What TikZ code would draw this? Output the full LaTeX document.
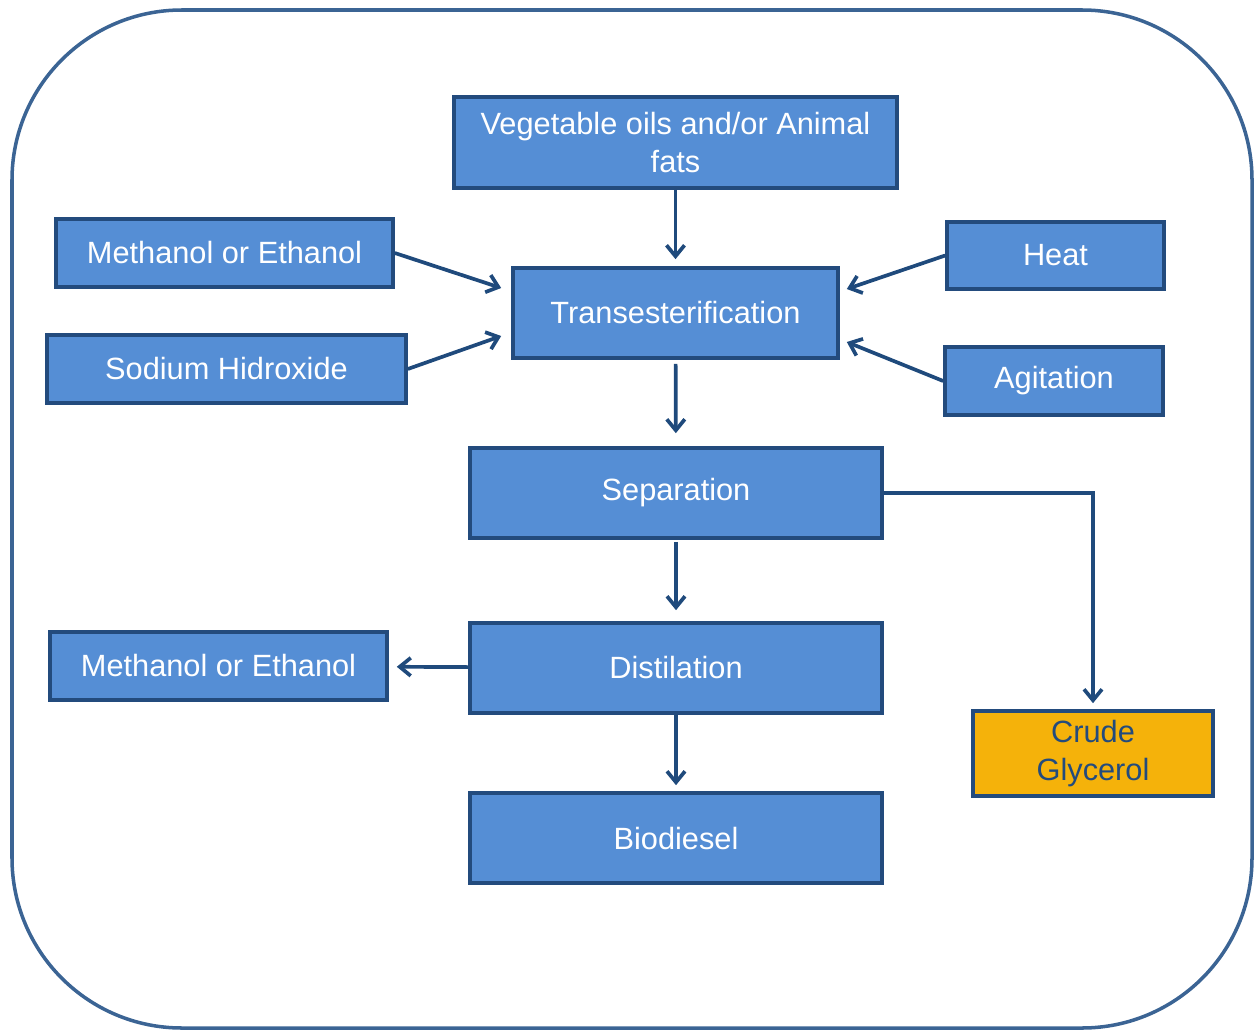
\documentclass[tikz,border=0pt]{standalone}
\usepackage{fontspec}
\setmainfont{Liberation Sans}
\usepackage{xcolor}
\usepackage{tikz}
\usetikzlibrary{arrows.meta}
\usetikzlibrary{calc}

\definecolor{boxfill}{HTML}{558ED5}
\definecolor{boxline}{HTML}{234B7D}
\definecolor{arrowblue}{HTML}{1F4A7C}
\definecolor{frameblue}{HTML}{3B6494}
\definecolor{glycfill}{HTML}{F5B20A}

\tikzset{
  stage/.style = {draw=boxline, fill=boxfill, line width=2.1pt, text=white,
                  align=center, inner sep=0pt,
                  font=\fontsize{17.5}{21.5}\selectfont},
  flow/.style  = {draw=arrowblue, line width=2.1pt,
                  -{Straight Barb[length=2.2mm,width=3.6mm]}},
}

\begin{document}
\begin{tikzpicture}[x=0.02cm, y=-0.02cm]
    \useasboundingbox (0,0) rectangle (1254,1031);
    \draw[frameblue, line width=2pt, rounded corners=3.4cm] (12,10) rectangle (1252,1028);

    % feed stocks and conditions
    \node[stage, minimum width=8.86cm, minimum height=1.82cm] (veg) at (675.5,142.5)
        {Vegetable oils and/or Animal\\fats};
    \node[stage, minimum width=6.74cm, minimum height=1.36cm] (meth) at (224.5,253) {Methanol or Ethanol};
    \node[stage, minimum width=7.18cm, minimum height=1.36cm] (naoh) at (226.5,369) {Sodium Hidroxide};
    \node[stage, minimum width=6.5cm,  minimum height=1.8cm]  (trans) at (675.5,313) {Transesterification};
    \node[stage, minimum width=4.34cm, minimum height=1.34cm] (heat) at (1055.5,255.5) {Heat};
    \node[stage, minimum width=4.36cm, minimum height=1.36cm] (agit) at (1054,381) {Agitation};

    % products
    \node[stage, minimum width=8.24cm, minimum height=1.8cm]  (sep) at (676,493) {Separation};
    \node[stage, minimum width=8.24cm, minimum height=1.8cm]  (dist) at (676,668) {Distilation};
    \node[stage, minimum width=6.74cm, minimum height=1.36cm] (methback) at (218.5,666) {Methanol or Ethanol};
    \node[stage, minimum width=8.24cm, minimum height=1.8cm]  (bio) at (676,838) {Biodiesel};
    \node[stage, fill=glycfill, text=boxline, minimum width=4.8cm, minimum height=1.7cm] (glyc) at (1093,753.5)
        {Crude\\Glycerol};

    \draw[flow, shorten >=0.14cm] (veg) -- (trans);
    \draw[flow] (meth.east) -- ($(trans.west)+(-10,-25)$);
    \draw[flow] (naoh.east) -- ($(trans.west)+(-10,23)$);
    \draw[flow] (heat.west) -- ($(trans.east)+(7,-24)$);
    \draw[flow] (agit.west) -- ($(trans.east)+(7,29)$);
    \draw[flow, shorten <=0.08cm, shorten >=0.26cm] (trans) -- (sep);
    \draw[flow, shorten <=0.04cm, shorten >=0.22cm] (sep) -- (dist);
    \draw[flow, shorten >=0.12cm] (dist) -- (bio);
    \draw[flow, shorten >=0.16cm] (dist) -- (methback);
    \draw[flow, shorten >=0.12cm] (sep.east) -| (glyc.north);
\end{tikzpicture}
\end{document}
